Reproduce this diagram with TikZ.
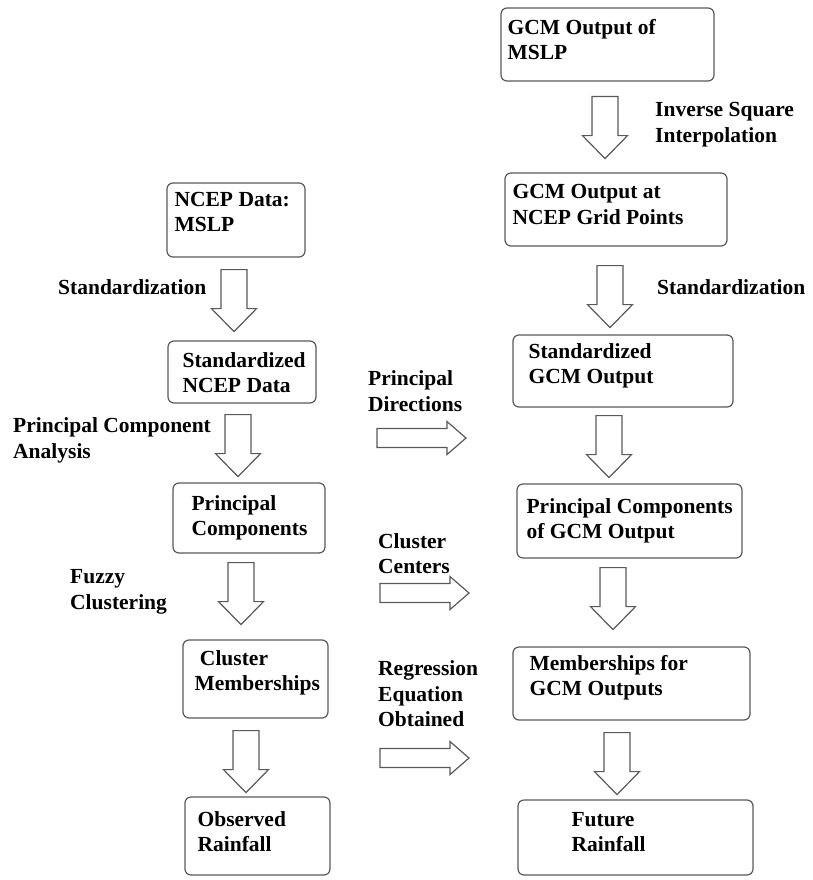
\documentclass[tikz,border=0pt]{standalone}
\usepackage{fontspec}
\setmainfont{Liberation Serif}
\usetikzlibrary{positioning,calc}

\tikzset{
  box/.style={draw=black!65, line width=1.2pt, rounded corners=6pt, inner sep=0pt},
  txt/.style={font=\fontsize{21.5}{25.5}\selectfont\bfseries, align=left,
    inner sep=0pt, anchor=north west},
  blk/.style={draw=black!65, line width=1.2pt, fill=white}
}
% hollow block arrow below node #1, shifted by (#2,#3)
\newcommand{\blockdown}[3]{%
  \draw[blk] ($(#1.south)+(#2,#3)$) ++(-13,0) -- ++(26,0) -- ++(0,39)
    -- ++(9.5,0) -- ++(-22.5,23) -- ++(-22.5,-23) -- ++(9.5,0) -- cycle;}
% hollow block arrow to the right, below label #1
\newcommand{\blockright}[3]{%
  \draw[blk] ($(#1.south west)+(#2,#3)$) ++(0,-9.5) -- ++(70,0) -- ++(0,-7)
    -- ++(19,16.5) -- ++(-19,16.5) -- ++(0,-7) -- ++(-70,0) -- cycle;}

\begin{document}
\begin{tikzpicture}[x=1pt, y=-1pt]
\useasboundingbox (0,0) rectangle (812,880);

% right column
\node[box, minimum width=213, minimum height=73,
  label={[txt, shift={(7,11.5)}]north west:{GCM Output of\\MSLP}}] (gcm) at (607.5,44.5) {};
\node[box, minimum width=222, minimum height=73,
  label={[txt, shift={(8,12)}]north west:{GCM Output at\\NCEP Grid Points}}] (gcmgrid) at (616,209.5) {};
\node[box, minimum width=220, minimum height=72,
  label={[txt, shift={(16,8.5)}]north west:{Standardized\\GCM Output}}] (stdgcm) at (623,371) {};
\node[box, minimum width=225, minimum height=74,
  label={[txt, shift={(10,14.5)}]north west:{Principal Components\\of GCM Output}}] (pcgcm) at (629.5,521) {};
\node[box, minimum width=237, minimum height=73,
  label={[txt, shift={(17,8.5)}]north west:{Memberships for\\GCM Outputs}}] (memgcm) at (631.5,683.5) {};
\node[box, minimum width=235, minimum height=75,
  label={[txt, shift={(54,12.5)}]north west:{Future\\Rainfall}}] (future) at (635.5,837.5) {};

% left column
\node[box, minimum width=138, minimum height=74,
  label={[txt, shift={(8,9.5)}]north west:{NCEP Data:\\MSLP}}] (ncep) at (236,220) {};
\node[box, minimum width=148, minimum height=62,
  label={[txt, shift={(15,11.5)}]north west:{Standardized\\NCEP Data}}] (stdncep) at (242,372) {};
\node[box, minimum width=152, minimum height=70,
  label={[txt, shift={(19,12.5)}]north west:{Principal\\Components}}] (pcncep) at (249,518) {};
\node[box, minimum width=145, minimum height=78,
  label={[txt, shift={(12,10.5)}]north west:{\ Cluster\\Memberships}}] (clmem) at (255.5,679) {};
\node[box, minimum width=145, minimum height=78,
  label={[txt, shift={(13,14.5)}]north west:{Observed\\Rainfall}}] (obsrain) at (257.5,836) {};

% step labels
\node[txt] (invsq) at (655,102.5) {Inverse Square\\Interpolation};
\node[txt] (stdr) at (657,279.5) {Standardization};
\node[txt] (stdl) at (58,279.5) {Standardization};
\node[txt] (pca) at (13,417.5) {Principal Component\\Analysis};
\node[txt] (fuzzy) at (70,569.5) {Fuzzy\\Clustering};
\node[txt] (pdir) at (368,370.5) {Principal\\Directions};
\node[txt] (ccent) at (378,533) {Cluster\\Centers};
\node[txt] (regr) at (378,660.5) {Regression\\Equation\\Obtained};

% block arrows
\blockdown{gcm}{-2.5}{15}
\blockdown{gcmgrid}{-6}{19}
\blockdown{stdgcm}{-14}{8}
\blockdown{pcgcm}{-16.5}{9}
\blockdown{memgcm}{-14.5}{12}
\blockdown{ncep}{-2}{12}
\blockdown{stdncep}{-4}{11}
\blockdown{pcncep}{-8}{9}
\blockdown{clmem}{-9.5}{12}

\blockright{pdir}{9}{26.5}
\blockright{ccent}{2}{19}
\blockright{regr}{2}{31}
\end{tikzpicture}
\end{document}
